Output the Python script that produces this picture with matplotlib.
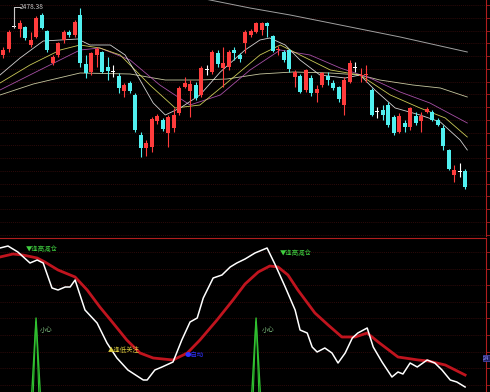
import matplotlib
matplotlib.use("Agg")
import matplotlib.pyplot as plt
import numpy as np

plt.rcParams['font.family'] = ['Noto Sans CJK SC', 'DejaVu Sans']

# ---- K-line data ----
opens = [2445, 2451, 2473, 2471, 2473, 2455, 2463, 2485, 2469, 2437,
         2445, 2460, 2468, 2465, 2485, 2436, 2428, 2445, 2448, 2433,
         2428.5, 2424, 2409, 2417, 2405, 2365, 2352, 2353, 2379, 2380,
         2367, 2372, 2387, 2413, 2409, 2415, 2405, 2430, 2428, 2447,
         2432, 2433, 2450, 2445, 2457, 2465, 2468, 2470, 2477, 2464,
         2450.5, 2448, 2450, 2423, 2424, 2410, 2422, 2407, 2415, 2424,
         2417, 2413, 2395, 2418, 2432, 2424.5, 2425.5, 2410, 2388, 2390,
         2395, 2383, 2368, 2377, 2373, 2384, 2379, 2388, 2388, 2380,
         2372, 2350, 2325, 2328, 2329]
closes = [2450, 2468, 2473, 2477, 2462, 2460, 2482, 2472, 2450, 2443,
          2457, 2468, 2465, 2478, 2437, 2427, 2447, 2451, 2428, 2429,
          2428.5, 2412, 2415, 2409, 2370, 2352, 2357, 2381, 2384, 2371,
          2383, 2385, 2412, 2417, 2416, 2402, 2432, 2430, 2448, 2436,
          2437, 2448, 2447, 2441, 2468, 2469, 2477, 2477, 2474, 2449,
          2451, 2440, 2431, 2428, 2408, 2430, 2407, 2411, 2427, 2420,
          2412, 2401, 2420, 2437, 2432, 2425.5, 2426.5, 2385, 2388, 2385,
          2375, 2367, 2384, 2373, 2392, 2377, 2384, 2391, 2380, 2375,
          2354, 2331, 2330, 2328, 2313]
highs = [2453, 2470, 2493, 2480, 2474, 2468, 2484, 2487, 2470, 2445,
         2458, 2470, 2470, 2480, 2492, 2445, 2448, 2453, 2449, 2443,
         2435, 2427, 2417, 2419, 2407, 2368, 2360, 2383, 2386, 2382,
         2385, 2392, 2414, 2423, 2420, 2418, 2434, 2435, 2450, 2450,
         2453, 2450, 2453, 2447, 2470, 2471, 2478, 2478, 2478, 2465,
         2454, 2450, 2451, 2430, 2426, 2431, 2425, 2415, 2428, 2428,
         2420, 2414, 2423, 2440, 2438, 2432, 2435, 2412, 2393, 2395,
         2398, 2385, 2387, 2380, 2393, 2388, 2388, 2393, 2390, 2382,
         2375, 2351, 2335, 2337, 2331]
lows = [2442, 2448, 2472, 2463, 2460, 2453, 2462, 2471, 2448, 2435,
        2443, 2457, 2463, 2463, 2433, 2422, 2425, 2433, 2427, 2420,
        2423, 2407, 2403, 2407, 2368, 2343, 2344, 2348, 2376, 2369,
        2353, 2368, 2385, 2412, 2383, 2400, 2403, 2425, 2426, 2433,
        2413, 2430, 2440, 2438, 2447, 2463, 2467, 2465, 2463, 2448,
        2445, 2438, 2428, 2413, 2407, 2408, 2404, 2398, 2413, 2415,
        2410, 2398, 2385, 2417, 2428, 2418, 2418, 2384, 2382, 2380,
        2373, 2365, 2367, 2368, 2370, 2375, 2368, 2387, 2379, 2374,
        2350, 2330, 2318, 2323, 2311]

# moving averages: (bar index, value) pairs
ma5_x = [-0.55, 3.1, 7.3, 13.6, 15.8, 19.5, 22.2, 24.9, 27.3, 29.5, 32.2, 35.8, 39.5,
         44, 46.7, 48.5, 51.3, 54, 57.6, 62.2, 64.9, 67.6, 71.3, 75.8, 79.5, 83.1, 84.4]
ma5_y = [2425, 2442, 2459, 2461, 2455, 2455, 2445, 2420, 2397, 2385, 2392, 2405, 2428,
         2450, 2460, 2462, 2455, 2440, 2425, 2422, 2425, 2410, 2392, 2385, 2378, 2360, 2350]
ma10_x = [-0.55, 4.9, 10.4, 14, 17.6, 21.3, 26.7, 31.3, 35.8, 41.3, 46.7, 50.4, 54,
          59.5, 64.9, 70.4, 75.8, 80.4, 84.4]
ma10_y = [2417, 2435, 2450, 2455, 2452, 2445, 2415, 2392, 2395, 2420, 2445, 2455, 2445,
          2430, 2425, 2405, 2392, 2382, 2363]
ma20_x = [-0.55, 6.7, 14, 17.6, 23.1, 28.5, 34, 39.5, 44.9, 50.4, 55.8, 61.3, 66.7,
          72.2, 77.6, 84.4]
ma20_y = [2410, 2430, 2450, 2452, 2440, 2415, 2395, 2405, 2430, 2450, 2445, 2432, 2422,
          2408, 2397, 2377]
ma60_x = [-0.55, 5.5, 14, 23.1, 29.5, 35.8, 40.7, 46.7, 52.7, 59.5, 64.9, 68.5, 74.5,
          79.5, 84.4]
ma60_y = [2405, 2416, 2427, 2426, 2420, 2420, 2421, 2426, 2428, 2427, 2425, 2420, 2415,
          2412, 2403]
ma250_x = [35.8, 44.9, 52.2, 59.5, 72.2, 84.4]
ma250_y = [2502, 2492, 2485, 2477, 2463, 2448]

# ---- indicator panel ----
fast_x = [-0.55, 0.9, 2.7, 4.9, 6.2, 7.3, 8.9, 10, 11.3, 12.2, 13.1, 14.9, 17.1, 18.9,
          20.7, 22.7, 25.5, 26.2, 27.6, 28.9, 30.9, 32.5, 34, 35.3, 36.4, 38.2, 39.8,
          41.3, 42.5, 44, 45.8, 48, 49.5, 51.3, 53.1, 54, 55.3, 56.2, 57.1, 58.5, 59.8,
          60.9, 62.2, 63.5, 64.5, 66.2, 67.3, 68.9, 70.7, 71.8, 72.7, 74, 75.3, 77.1,
          78.5, 79.8, 81.3, 82.5, 84]
fast_y = [152, 154, 148, 137, 140, 137, 112, 110, 113, 113, 120, 90, 77, 57,
          42, 30, 20, 20, 30, 33, 38, 60, 78, 82, 102, 122, 125,
          133, 137, 141, 147, 152, 135, 113, 90, 70, 67, 53, 48, 52, 47,
          37, 47, 62, 67, 72, 53, 38, 23, 28, 26, 37, 33, 40,
          37, 30, 20, 18, 13]
slow_x = [-0.55, 1.8, 3.6, 6.2, 7.6, 10, 13.1, 15.3, 17.6, 20, 22.5, 24.9, 27.3, 30.9,
          33.5, 35.8, 38.9, 41.8, 44, 46.4, 48.5, 50, 51.8, 53.6, 56.7, 59.1, 61.6,
          64, 66.2, 68.2, 71.8, 75.5, 77.3, 80.4, 84]
slow_y = [143, 146, 145, 142, 138, 130, 123, 110, 93, 77, 60, 47, 42, 40,
          47, 60, 80, 100, 116, 128, 134, 133, 125, 110, 87, 75, 63,
          63, 67, 58, 43, 40, 39, 35, 25]
spike_bars = [6, 46]
spike_height = 82

RED = '#ff3c3c'
CYAN = '#50f0f0'
GRID = '#3e0e0e'
EDGE = '#b01e1e'

fig = plt.figure(figsize=(4.9, 3.92), dpi=100, facecolor='black')
ax = fig.add_axes([0, 156 / 392, 486 / 490, 236 / 392], facecolor='black')
ax2 = fig.add_axes([0, 0, 486 / 490, 154 / 392], facecolor='black')

xmin, xmax = -0.55, 87.8

# candles
idx = np.arange(len(opens))
o = np.array(opens)
c = np.array(closes)
colors = np.where(c > o, RED, np.where(c < o, CYAN, 'white'))
ax.vlines(idx, lows, highs, colors=colors, lw=0.8, zorder=3)
body = np.abs(c - o)
body = np.where(body < 0.8, 0.8, body)
ax.bar(idx, body, bottom=np.minimum(o, c), width=0.72, color=colors, lw=0, zorder=4)

ax.plot(ma250_x, ma250_y, color='#a0a0a0', lw=0.7, zorder=2)
ax.plot(ma60_x, ma60_y, color='#dcdcb0', lw=0.6, alpha=0.9, zorder=2)
ax.plot(ma20_x, ma20_y, color='#b858b8', lw=0.6, alpha=0.9, zorder=2)
ax.plot(ma10_x, ma10_y, color='#dede60', lw=0.6, alpha=0.9, zorder=2)
ax.plot(ma5_x, ma5_y, color='#e8e8e8', lw=0.6, alpha=0.9, zorder=2)

# highest price marker
ax.plot([2, 2, 3.0], [2473, highs[2], highs[2]], color='#c8c8c8', lw=0.7, zorder=5)
ax.text(3.1, highs[2], '2478.38', color='#c8c8c8', fontsize=4.8, va='center',
        ha='left', zorder=5)

ax.set_xlim(xmin, xmax)
ax.set_ylim(2264, 2500)
ax.set_yticks(2495 - 12.75 * np.arange(19))
ax.grid(axis='y', color=GRID, lw=0.5, ls=(0, (1.5, 1.5)))
ax.set_xticks([])
ax.yaxis.tick_right()
ax.tick_params(axis='y', right=True, left=False, labelright=False, length=3,
               width=0.6, color=EDGE, direction='out')
for s in ['top', 'left', 'bottom']:
    ax.spines[s].set_visible(False)
ax.spines['right'].set_color(EDGE)

# indicator
for b in spike_bars:
    ax2.plot([b - 0.85, b, b + 0.85], [0, spike_height, 0], color='#30c030', lw=1.0, zorder=3)
    ax2.plot([b - 0.55, b - 0.05, b + 0.05, b + 0.55], [0, spike_height - 4, spike_height - 4, 0],
             color='#30c030', lw=0.8, zorder=3)
ax2.plot(slow_x, slow_y, color='#c0141e', lw=2.0, zorder=4)
ax2.plot(fast_x, fast_y, color='white', lw=1.1, zorder=5)

small = 4.6
ax2.text(4.2, 151, '▼逢高减仓', color='#40d040', fontsize=small, va='center', zorder=6)
ax2.text(50.4, 147, '▼逢高减仓', color='#40d040', fontsize=small, va='center', zorder=6)
ax2.text(6.6, 70, '小心', color='#80c080', fontsize=small, va='center', zorder=6)
ax2.text(47.0, 70, '小心', color='#80c080', fontsize=small, va='center', zorder=6)
ax2.text(19.0, 50, '▲逢低关注', color='#e0d040', fontsize=small, va='center', zorder=6)
ax2.text(33.0, 45, '●启动', color='#3030ff', fontsize=small, va='center', zorder=6)

ax2.set_xlim(xmin, xmax)
ax2.set_ylim(8, 162)
ax2.set_yticks(148 - 16.6 * np.arange(9))
ax2.grid(axis='y', color=GRID, lw=0.5, ls=(0, (1.5, 1.5)))
ax2.set_xticks([])
ax2.yaxis.tick_right()
ax2.tick_params(axis='y', right=True, left=False, labelright=False, length=3,
                width=0.6, color=EDGE, direction='out')
for s in ['left', 'bottom']:
    ax2.spines[s].set_visible(False)
ax2.spines['top'].set_color(EDGE)
ax2.spines['right'].set_color(EDGE)

fig.text(489.5 / 490, 34 / 392, '24', color='#9090ff', fontsize=4.0, va='center', ha='right',
         bbox=dict(boxstyle='square,pad=0.1', fc='#202060', ec='#5050c0', lw=0.5))

fig.savefig('out.png', dpi=100, facecolor='black')
